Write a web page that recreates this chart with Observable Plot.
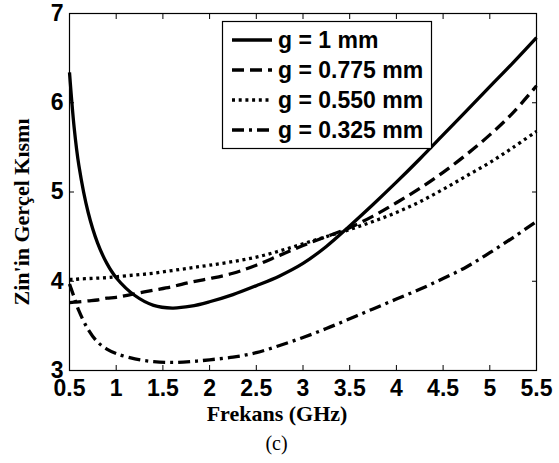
<!DOCTYPE html>
<html>
<head>
<meta charset="utf-8">
<script src="https://cdn.jsdelivr.net/npm/d3@7"></script>
<script src="https://cdn.jsdelivr.net/npm/@observablehq/plot@0.6"></script>
<style>
  html, body { margin: 0; padding: 0; background: white; }
  #wrap { position: relative; width: 559px; height: 463px; }
  #caption { position: absolute; left: 0; width: 553px; top: 432px; text-align: center;
    font-family: "Liberation Serif", "Times New Roman", serif; font-size: 20px; color: black; }
</style>
</head>
<body>
<div id="wrap"></div>
<script>
// ---- data ----
const freq = [0.5, 0.55, 0.6, 0.7, 0.8, 0.9, 1.0, 1.2, 1.4, 1.6, 1.8, 2.0, 2.25, 2.5, 2.75, 3.0, 3.25, 3.5, 3.75, 4.0, 4.25, 4.5, 4.75, 5.0, 5.25, 5.5];
const g1000 = [6.34, 5.72, 5.30, 4.77, 4.43, 4.20, 4.04, 3.84, 3.73, 3.70, 3.72, 3.77, 3.85, 3.95, 4.06, 4.20, 4.39, 4.62, 4.86, 5.11, 5.37, 5.64, 5.91, 6.18, 6.45, 6.73];
const g775  = [3.76, 3.765, 3.77, 3.78, 3.79, 3.81, 3.82, 3.86, 3.90, 3.94, 3.99, 4.03, 4.09, 4.18, 4.29, 4.40, 4.50, 4.60, 4.73, 4.88, 5.04, 5.22, 5.42, 5.64, 5.89, 6.19];
const g550  = [4.02, 4.02, 4.025, 4.03, 4.035, 4.04, 4.05, 4.07, 4.09, 4.12, 4.15, 4.18, 4.22, 4.27, 4.34, 4.42, 4.50, 4.58, 4.67, 4.77, 4.89, 5.03, 5.18, 5.33, 5.50, 5.68];
const g325  = [3.97, 3.82, 3.67, 3.46, 3.32, 3.24, 3.19, 3.13, 3.10, 3.09, 3.10, 3.12, 3.15, 3.20, 3.28, 3.37, 3.47, 3.58, 3.69, 3.80, 3.91, 4.03, 4.16, 4.32, 4.49, 4.67];
const seriesNames = ["g = 1 mm", "g = 0.775 mm", "g = 0.550 mm", "g = 0.325 mm"];
const seriesValues = [g1000, g775, g550, g325];
const xTicks = [0.5, 1, 1.5, 2, 2.5, 3, 3.5, 4, 4.5, 5, 5.5];
const yTicks = [3, 4, 5, 6, 7];
const xTitle = "Frekans (GHz)";
const yTitle = "Zin'in Gerçel Kısmı";
const captionText = "(c)";

// styles
const dashes = [null, "12,6", "3,3.7", "12,5,3,5"];

const rows = [];
seriesNames.forEach((name, i) => freq.forEach((f, j) => rows.push({series: name, f, v: seriesValues[i][j]})));

const W = 559, H = 431;
const mL = 69, mR = 23, mT = 13, mB = 61;
const tickFont = "'Liberation Sans', Arial, sans-serif";

const chart = Plot.plot({
  width: W, height: H,
  marginLeft: mL, marginRight: mR, marginTop: mT, marginBottom: mB,
  x: {domain: [0.5, 5.5]},
  y: {domain: [3, 7]},
  style: {fontFamily: tickFont, fontWeight: "bold", fontSize: "23px", color: "black", background: "white", overflow: "visible"},
  marks: [
    Plot.axisX(xTicks, {anchor: "bottom", tickSize: -5, tickPadding: 14, tickFormat: d => String(d), label: null, stroke: "black"}),
    Plot.axisX(xTicks, {anchor: "top", tickSize: -5, tickFormat: () => "", label: null, stroke: "black"}),
    Plot.axisY(yTicks, {anchor: "left", tickSize: -5, tickPadding: 11, tickFormat: d => String(d), label: null, stroke: "black"}),
    Plot.axisY(yTicks, {anchor: "right", tickSize: -5, tickFormat: () => "", label: null, stroke: "black"}),
    ...seriesNames.map((name, i) => Plot.line(rows.filter(r => r.series === name), {
      x: "f", y: "v", stroke: "black", strokeWidth: 3.3, curve: "catmull-rom",
      strokeDasharray: dashes[i], strokeLinecap: "butt"
    })),
    Plot.frame({stroke: "black", strokeWidth: 1.2})
  ]
});

const wrap = document.getElementById("wrap");
wrap.appendChild(chart);

d3.select(chart).selectAll("text")
  .style("font-size", "23px").style("font-weight", "bold").style("font-family", tickFont)
  .style("fill", "black").style("stroke", "none");

// axis titles and legend
const svg = d3.select(chart);
svg.append("text")
  .attr("x", 277).attr("y", 421)
  .attr("text-anchor", "middle")
  .style("font-family", "'Liberation Serif', 'Times New Roman', serif")
  .style("font-weight", "bold").style("font-size", "22px").attr("fill", "black")
  .text(xTitle);
svg.append("text")
  .attr("transform", "translate(29,212) rotate(-90)")
  .attr("text-anchor", "middle")
  .style("font-family", "'Liberation Serif', 'Times New Roman', serif")
  .style("font-weight", "bold").style("font-size", "22px").attr("fill", "black")
  .text(yTitle);

const lg = svg.append("g");
lg.append("rect").attr("x", 222.5).attr("y", 21.5).attr("width", 209).attr("height", 127)
  .attr("fill", "white").attr("stroke", "black").attr("stroke-width", 1.2);
seriesNames.forEach((name, i) => {
  const yy = 40 + i * 30;
  lg.append("line").attr("x1", 232).attr("x2", 272).attr("y1", yy).attr("y2", yy)
    .attr("stroke", "black").attr("stroke-width", 3.3)
    .attr("stroke-dasharray", dashes[i]);
  lg.append("text").attr("x", 278).attr("y", yy).attr("dy", "0.36em")
    .attr("text-anchor", "start")
    .style("font-family", tickFont).style("font-weight", "bold").style("font-size", "23px")
    .attr("fill", "black").text(name);
});

const cap = document.createElement("div");
cap.id = "caption";
cap.textContent = captionText;
wrap.appendChild(cap);
</script>
</body>
</html>
